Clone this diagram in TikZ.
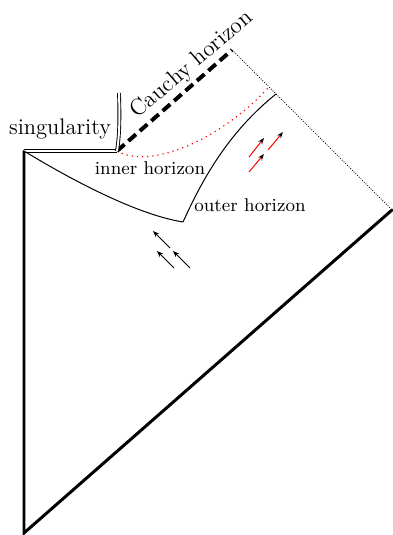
\documentclass[tikz,border=0pt]{standalone}
\usepackage{tikz}
\usetikzlibrary{arrows.meta,calc,positioning}

\begin{document}
\begin{tikzpicture}[x=0.5bp,y=-0.5bp,
  wall/.style={line width=1.5pt,line cap=round},
  horizon/.style={line width=0.5pt},
  cauchy/.style={line width=2pt,dash pattern=on 5bp off 2.6bp},
  nullinf/.style={line width=0.35pt,dash pattern=on 0.5pt off 0.7pt},
  sing/.style={double,line width=0.45pt,double distance=1pt},
  ray/.style={-{Stealth[length=3.2pt,width=2.4pt]},line width=0.5pt},
  redray/.style={ray,red,-{Stealth[length=3.2pt,width=2.4pt,color=black]}},
  lbl/.style={font=\fontsize{9.3}{11}\selectfont}
]
\useasboundingbox (0,0) rectangle (393,535);

% Corners of the diagram
\coordinate (origin) at (24,533);
\coordinate (tl) at (24,151);
\coordinate (corner) at (117,151);
\coordinate (ctop) at (232,50);
\coordinate (right) at (392,210);
\coordinate (kink) at (183,222);
\coordinate (outend) at (276,94);
\coordinate (redend) at (268,88);

% Boundary
\draw[wall] (tl)--(origin)--(right);
\draw[nullinf] (ctop)--(right);
\draw[cauchy] (corner)--(ctop);
\draw[sing] (tl)--(corner);

% Horizons
\draw[horizon] (tl) .. controls (80,185) and (140,215) .. (kink);
\draw[horizon] (kink) .. controls (200,185) and (225,135) .. (outend);
\draw[red,line width=0.6pt,dotted] (corner) .. controls (150,170) and (220,140) .. (redend);

% Pointer to the singularity
\coordinate (ptr) at (119,93);
\draw[sing] (ptr) .. controls (120,125) and (119,138) .. (corner);

% Labels
\node[font=\fontsize{11.3}{13}\selectfont] (singlbl) at (60,129) {singularity};
\node[font=\fontsize{11.5}{13}\selectfont,rotate=40.5] (cauchylbl) at (192,65) {Cauchy horizon};
\node[lbl] (innerlbl) at (150,168) {inner horizon};
\node[lbl] (outerlbl) at (250,205) {outer horizon};

% Infalling rays
\coordinate (b1s) at (170,248); \coordinate (b1e) at (153,231);
\coordinate (b2s) at (174,268); \coordinate (b2e) at (157,251);
\coordinate (b3s) at (190,268); \coordinate (b3e) at (173,251);
\draw[ray] (b1s)--(b1e);
\draw[ray] (b2s)--(b2e);
\draw[ray] (b3s)--(b3e);

% Outgoing rays
\coordinate (r1s) at (249,157); \coordinate (r1e) at (264,138);
\coordinate (r2s) at (249,172); \coordinate (r2e) at (264,154);
\coordinate (r3s) at (268,150); \coordinate (r3e) at (283,132);
\draw[redray] (r1s)--(r1e);
\draw[redray] (r2s)--(r2e);
\draw[redray] (r3s)--(r3e);
\end{tikzpicture}
\end{document}
